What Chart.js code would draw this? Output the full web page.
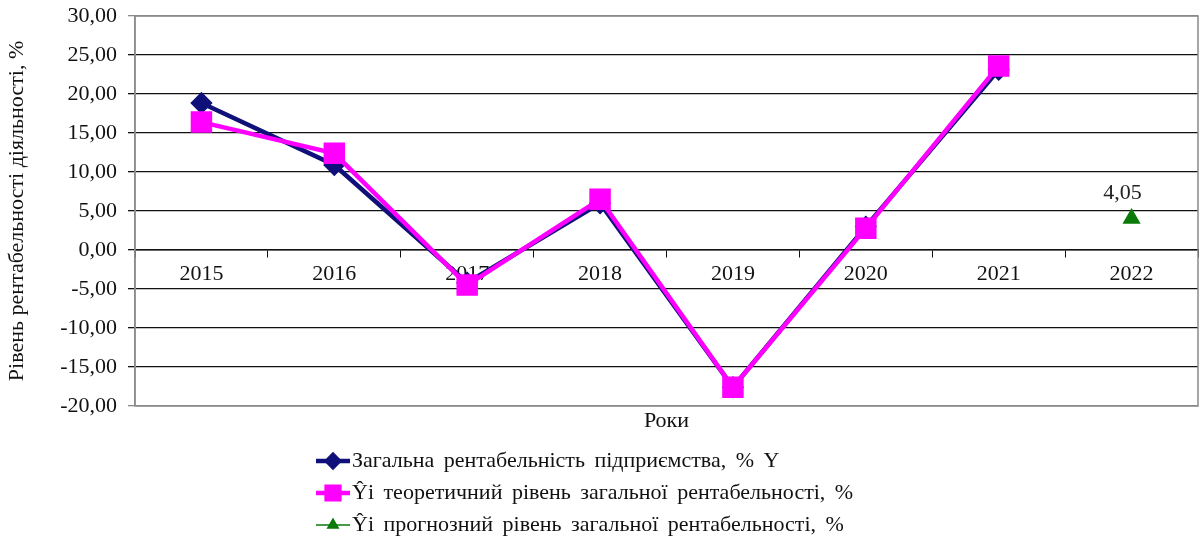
<!DOCTYPE html>
<html>
<head>
<meta charset="utf-8">
<script src="https://cdn.jsdelivr.net/npm/chart.js@4.4.0/dist/chart.umd.min.js"></script>
<style>
  html, body { margin: 0; padding: 0; background: #fff; }
  #wrap { width: 1200px; height: 541px; }
</style>
</head>
<body>
<div id="wrap"><canvas id="chart" width="1200" height="541"></canvas></div>
<script>
const years = ['2015', '2016', '2017', '2018', '2019', '2020', '2021', '2022'];
const actual = [18.85, 10.9, -4.2, 6.0, -17.6, 3.0, 23.1, null];
const theoretical = [16.4, 12.4, -4.5, 6.5, -17.6, 2.8, 23.6, null];
const forecast = [null, null, null, null, null, null, null, 4.05];
const seriesNames = [
    'Загальна рентабельність підприємства, % Y',
    'Ŷі теоретичний рівень загальної рентабельності, %',
    'Ŷі прогнозний рівень загальної рентабельності, %'
];
const yTitle = 'Рівень рентабельності діяльності, %';
const xTitle = 'Роки';

const FONT = '"Liberation Serif", "Times New Roman", serif';
const FS = 22;

// plot frame, forecast label and a stacked legend
const framePlugin = {
    id: 'frame',
    beforeDatasetsDraw(chart) {
        const { ctx, chartArea: a } = chart;
        ctx.save();
        ctx.strokeStyle = '#8a8a8a';
        ctx.lineWidth = 1.5;
        ctx.strokeRect(a.left, a.top, a.right - a.left, a.bottom - a.top);
        ctx.restore();
    },
    afterDatasetsDraw(chart) {
        const { ctx } = chart;
        const meta = chart.getDatasetMeta(2);
        ctx.save();
        ctx.font = FS + 'px ' + FONT;
        ctx.fillStyle = '#222';
        ctx.textAlign = 'center';
        ctx.textBaseline = 'bottom';
        meta.data.forEach((pt, i) => {
            const v = forecast[i];
            if (v === null) return;
            ctx.fillText(v.toFixed(2).replace('.', ','), pt.x - 9, pt.y - 14);
        });
        ctx.restore();
    },
    afterDraw(chart) {
        const { ctx } = chart;
        ctx.save();
        ctx.font = FS + 'px ' + FONT;
        ctx.textBaseline = 'middle';
        ctx.wordSpacing = '4px';
        chart.data.datasets.forEach((ds, i) => {
            const y = 461 + i * 32;
            ctx.strokeStyle = ds.borderColor;
            ctx.lineWidth = ds.borderWidth;
            ctx.beginPath();
            ctx.moveTo(316, y);
            ctx.lineTo(350, y);
            ctx.stroke();
            Chart.helpers.drawPoint(ctx, {
                pointStyle: ds.pointStyle,
                radius: ds.legendRadius,
                borderWidth: 1
            }, 333, y);
            ctx.fillStyle = ds.pointBackgroundColor;
            ctx.fill();
            ctx.fillStyle = '#111';
            ctx.fillText(ds.label, 352, y);
        });
        ctx.restore();
    }
};

function noPadding(s) {
    s.paddingLeft = 0;
    s.paddingRight = 0;
    s.paddingTop = 0;
    s.paddingBottom = 0;
}

new Chart(document.getElementById('chart'), {
    type: 'line',
    data: {
        labels: years,
        datasets: [
            {
                label: seriesNames[0],
                data: actual,
                order: 3,
                borderColor: '#10107a',
                backgroundColor: '#10107a',
                pointBackgroundColor: '#10107a',
                pointBorderColor: '#10107a',
                borderWidth: 4.5,
                pointStyle: 'rectRot',
                pointRadius: 8,
                legendRadius: 6,
                tension: 0
            },
            {
                label: seriesNames[1],
                data: theoretical,
                order: 2,
                borderColor: '#ff00ff',
                backgroundColor: '#ff00ff',
                pointBackgroundColor: '#ff00ff',
                pointBorderColor: '#ff00ff',
                borderWidth: 4.5,
                pointStyle: 'rect',
                pointRadius: 12,
                legendRadius: 9,
                tension: 0
            },
            {
                label: seriesNames[2],
                data: forecast,
                order: 1,
                borderColor: '#0a7a0a',
                backgroundColor: '#0a7a0a',
                pointBackgroundColor: '#0a7a0a',
                pointBorderColor: '#0a7a0a',
                borderWidth: 1.5,
                pointStyle: 'triangle',
                pointRadius: 9,
                legendRadius: 6,
                tension: 0
            }
        ]
    },
    options: {
        responsive: false,
        animation: false,
        layout: {
            autoPadding: false,
            padding: { left: 0, right: 2, top: 16, bottom: 105 }
        },
        plugins: {
            legend: { display: false },
            tooltip: { enabled: false }
        },
        scales: {
            x: {
                position: { y: 0 },
                offset: true,
                border: { display: true, color: '#111', width: 1.5 },
                grid: {
                    offset: true,
                    drawOnChartArea: false,
                    drawTicks: true,
                    tickLength: 7,
                    color: '#111'
                },
                ticks: {
                    color: '#111',
                    padding: 4,
                    maxRotation: 0,
                    font: { family: FONT, size: FS }
                },
                afterFit: noPadding
            },
            x2: {
                type: 'category',
                position: 'bottom',
                labels: years,
                offset: true,
                border: { display: false },
                grid: { display: false },
                ticks: { display: false },
                title: {
                    display: true,
                    text: xTitle,
                    color: '#111',
                    padding: { top: 2, bottom: 2 },
                    font: { family: FONT, size: FS }
                },
                afterFit(s) {
                    noPadding(s);
                    s.height = 30;
                }
            },
            y: {
                min: -20,
                max: 30,
                border: { display: true, color: '#8a8a8a', width: 1.5 },
                grid: {
                    color: ctx => (ctx.tick && (ctx.tick.value === 30 || ctx.tick.value === -20)) ? '#8a8a8a' : '#111',
                    lineWidth: 1.3,
                    tickLength: 7,
                    drawTicks: true
                },
                ticks: {
                    stepSize: 5,
                    color: '#111',
                    padding: 11,
                    font: { family: FONT, size: FS },
                    callback: v => v.toFixed(2).replace('.', ',')
                },
                title: {
                    display: true,
                    text: yTitle,
                    color: '#111',
                    padding: { top: 4, bottom: 0 },
                    font: { family: FONT, size: FS }
                },
                afterFit(s) {
                    noPadding(s);
                    s.width = 135;
                }
            }
        }
    },
    plugins: [framePlugin]
});
</script>
</body>
</html>
